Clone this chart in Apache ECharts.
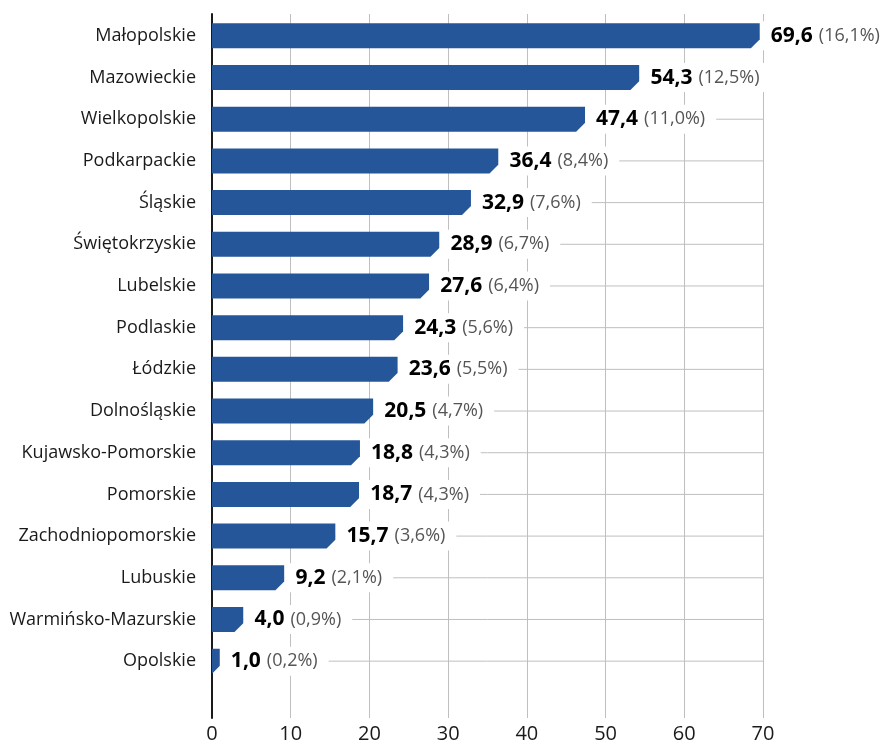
<!DOCTYPE html>
<html>
<head>
<meta charset="utf-8">
<script src="https://cdn.jsdelivr.net/npm/echarts@6/dist/echarts.min.js"></script>
<style>
  html, body { margin: 0; padding: 0; background: #fff; }
  #chart { width: 887px; height: 744px; }
</style>
</head>
<body>
<div id="chart"></div>
<script>
const categories = ['Małopolskie', 'Mazowieckie', 'Wielkopolskie', 'Podkarpackie', 'Śląskie',
  'Świętokrzyskie', 'Lubelskie', 'Podlaskie', 'Łódzkie', 'Dolnośląskie', 'Kujawsko-Pomorskie',
  'Pomorskie', 'Zachodniopomorskie', 'Lubuskie', 'Warmińsko-Mazurskie', 'Opolskie'];
const values = [69.6, 54.3, 47.4, 36.4, 32.9, 28.9, 27.6, 24.3, 23.6, 20.5, 18.8, 18.7, 15.7, 9.2, 4.0, 1.0];
const shares = [16.1, 12.5, 11.0, 8.4, 7.6, 6.7, 6.4, 5.6, 5.5, 4.7, 4.3, 4.3, 3.6, 2.1, 0.9, 0.2];
const xTicks = [0, 10, 20, 30, 40, 50, 60, 70];

const FONT = '"Open Sans", "Noto Sans", sans-serif';
const BAR = '#26569a';
const xMin = xTicks[0];
const xMax = xTicks[xTicks.length - 1];

const fmt = v => v.toFixed(1).replace('.', ',');

const chart = echarts.init(document.getElementById('chart'));

// bar with the bottom right corner cut off, plus the row line and the label
function renderBar(params, api) {
  const idx = api.value(1);
  const start = api.coord([0, idx]);
  const end = api.coord([api.value(0), idx]);
  const lineEnd = api.coord([xMax, idx]);
  const h = api.size([0, 1])[1] * 0.6;
  const top = end[1] - h / 2;
  const bottom = end[1] + h / 2;
  const c = Math.min(9, end[0] - start[0]);
  return {
    type: 'group',
    children: [
      {
        type: 'line',
        shape: { x1: start[0], y1: end[1], x2: lineEnd[0], y2: end[1] },
        style: { stroke: '#bfbfbf', lineWidth: 1 }
      },
      {
        type: 'polygon',
        shape: {
          points: [
            [start[0], top], [end[0], top], [end[0], bottom - c],
            [end[0] - c, bottom], [start[0], bottom]
          ]
        },
        style: { fill: BAR }
      },
      {
        type: 'text',
        x: end[0],
        y: end[1],
        style: {
          text: '{a|' + fmt(values[idx]) + '}{b|(' + fmt(shares[idx]) + '%)}',
          verticalAlign: 'middle',
          align: 'left',
          backgroundColor: '#fff',
          padding: [4, 11, 4, 11],
          rich: {
            a: { fontFamily: FONT, fontSize: 21, fontWeight: 'bold', fill: '#000', color: '#000' },
            b: { fontFamily: FONT, fontSize: 18, fill: '#555', color: '#555', padding: [0, 0, 0, 6] }
          }
        }
      }
    ]
  };
}

chart.setOption({
  animation: false,
  grid: [
    { left: 212, right: 124, top: 14, bottom: 26 },
    { left: 212, right: 124, top: 15, height: 667 }
  ],
  xAxis: [
    {
      gridIndex: 0, type: 'value', min: xMin, max: xMax, interval: 10,
      axisLine: { show: false }, axisTick: { show: false },
      axisLabel: { fontFamily: FONT, fontSize: 20, color: '#1a1a1a', margin: 6 },
      splitLine: { lineStyle: { color: '#bfbfbf', width: 1 } }
    },
    {
      gridIndex: 1, type: 'value', min: xMin, max: xMax, show: false
    }
  ],
  yAxis: [
    {
      gridIndex: 0, type: 'value', min: 0, max: 1,
      axisLine: { show: true, lineStyle: { color: '#1a1a1a', width: 2 } },
      axisTick: { show: false }, axisLabel: { show: false }, splitLine: { show: false }
    },
    {
      gridIndex: 1, type: 'category', data: categories, inverse: true,
      axisLine: { show: false }, axisTick: { show: false },
      axisLabel: { fontFamily: FONT, fontSize: 18, color: '#1a1a1a', margin: 16 },
      splitLine: { show: false }
    }
  ],
  series: [
    {
      type: 'custom',
      xAxisIndex: 1,
      yAxisIndex: 1,
      renderItem: renderBar,
      encode: { x: 0, y: 1 },
      data: values.map((v, i) => [v, i]),
      z: 3
    }
  ]
});
</script>
</body>
</html>
